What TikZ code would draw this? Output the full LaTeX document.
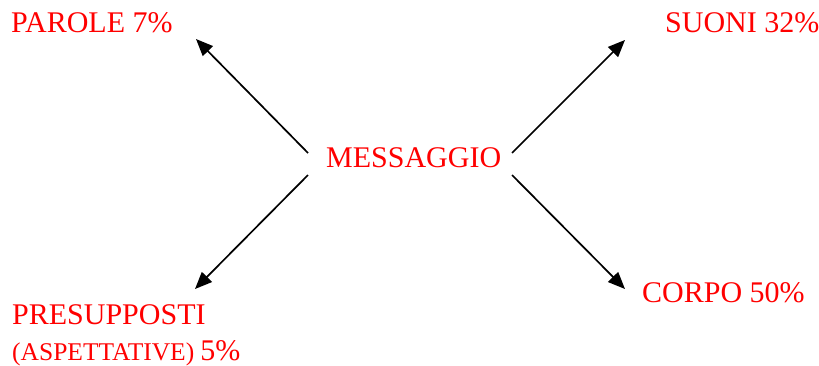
\documentclass[tikz,border=0pt]{standalone}
\usepackage{fontspec}
\setmainfont{Liberation Serif}
\usetikzlibrary{arrows.meta}
\definecolor{txtred}{RGB}{255,0,0}
\tikzset{
  lbl/.style={text=txtred, inner sep=0pt, anchor=base west, font=\fontsize{30}{34}\selectfont},
  conn/.style={line width=1.7pt, draw=black, -{Triangle[length=17pt,width=14pt]}}
}
\begin{document}
\begin{tikzpicture}[x=1pt,y=-1pt]
\useasboundingbox (0,0) rectangle (819,365);
\node[lbl] (parole) at (11,32) {PAROLE 7\%};
\node[lbl] (suoni) at (665,32) {SUONI 32\%};
\node[lbl] (msg) at (326,167) {MESSAGGIO};
\node[lbl] (presup) at (12,324) {PRESUPPOSTI};
\node[lbl] (aspett) at (12,360) {{\fontsize{25.5}{28}\selectfont (ASPETTATIVE)}\hspace{6pt}5\%};
\node[lbl] (corpo) at (642,302) {CORPO 50\%};
\coordinate (s1) at (308,153);
\coordinate (t1) at (196,39);
\coordinate (s2) at (512,153);
\coordinate (t2) at (625,40);
\coordinate (s3) at (308,175);
\coordinate (t3) at (195,289);
\coordinate (s4) at (512,175);
\coordinate (t4) at (625,289);
\draw[conn] (s1) -- (t1);
\draw[conn] (s2) -- (t2);
\draw[conn] (s3) -- (t3);
\draw[conn] (s4) -- (t4);
\end{tikzpicture}
\end{document}
